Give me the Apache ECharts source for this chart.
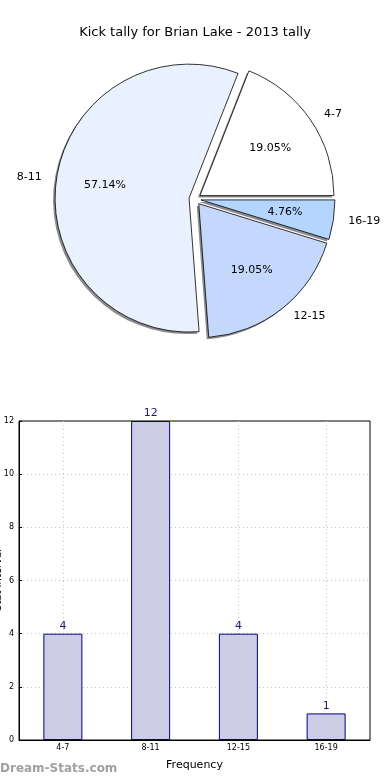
<!DOCTYPE html>
<html>
<head>
<meta charset="utf-8">
<script src="https://cdn.jsdelivr.net/npm/echarts@6/dist/echarts.min.js"></script>
<style>
html,body{margin:0;padding:0;background:#fff;}
#c{width:390px;height:780px;}
</style>
</head>
<body>
<div id="c"></div>
<script>
var titleText = "Kick tally for Brian Lake - 2013 tally";
var yAxisTitle = "Stat Interval";
var categories = ["4-7", "8-11", "12-15", "16-19"];
var counts = [4, 12, 4, 1];
var sliceColors = ["#ffffff", "#eaf1fe", "#c4d8fd", "#b4d5ff"];
var yTicks = [0, 2, 4, 6, 8, 10, 12];

var font = "DejaVu Sans";
var chart = echarts.init(document.getElementById('c'), null, {renderer: 'canvas'});

function makeData(withColor) {
  return categories.map(function (c, i) {
    var d = {name: c, value: counts[i], selected: true};
    if (withColor) d.itemStyle = {color: sliceColors[i]};
    return d;
  });
}

var pieCenter = [195, 199];
var pieR = 134;

function pieBase(extra) {
  var s = {
    type: 'pie',
    center: pieCenter,
    radius: [0, pieR],
    startAngle: 0,
    clockwise: false,
    selectedMode: 'multiple',
    selectedOffset: 6,
    emphasis: {disabled: true},
    silent: true,
    labelLine: {show: false},
    labelLayout: {hideOverlap: false}
  };
  for (var k in extra) s[k] = extra[k];
  return s;
}

var option = {
  backgroundColor: '#fff',
  animation: false,
  textStyle: {fontFamily: font},
  title: {
    text: titleText, left: 'center', top: 21,
    textStyle: {fontSize: 13, fontWeight: 'normal', color: '#000', fontFamily: font}
  },
  grid: {
    left: 19, right: 20, top: 421, bottom: 40,
    outerBoundsMode: 'none', containLabel: false,
    show: true, borderColor: '#000', borderWidth: 1, backgroundColor: 'transparent'
  },
  xAxis: {
    type: 'category', data: categories,
    name: 'Frequency', nameLocation: 'middle', nameGap: 20,
    nameTextStyle: {fontSize: 11, color: '#000', fontFamily: font},
    axisLine: {lineStyle: {color: '#000'}},
    axisTick: {show: true, alignWithLabel: true, inside: true, length: 3, lineStyle: {color: '#000'}},
    axisLabel: {fontSize: 8, color: '#000', margin: 4, fontFamily: font},
    splitLine: {show: true, alignWithLabel: true, lineStyle: {color: '#c4c4c4', type: [1, 3], width: 1}}
  },
  yAxis: {
    type: 'value', min: yTicks[0], max: yTicks[yTicks.length - 1], interval: 2,
    axisLine: {show: true, lineStyle: {color: '#000'}},
    axisTick: {show: true, inside: true, length: 3, lineStyle: {color: '#000'}},
    axisLabel: {fontSize: 8, color: '#000', margin: 5, fontFamily: font},
    splitLine: {show: true, showMinLine: false, showMaxLine: false, lineStyle: {color: '#c4c4c4', type: [1, 3], width: 1}}
  },
  series: [
    pieBase({
      center: [pieCenter[0] - 2, pieCenter[1] + 2],
      z: 1,
      itemStyle: {color: '#8c8c8c', borderWidth: 0},
      label: {show: false},
      data: makeData(false)
    }),
    pieBase({
      z: 2,
      itemStyle: {borderColor: '#000', borderWidth: 0.8},
      label: {
        show: true, position: 'outside', formatter: '{b}',
        fontSize: 11, color: '#000', fontFamily: font
      },
      labelLine: {show: false, length: 10, length2: 0},
      data: makeData(true)
    }),
    pieBase({
      radius: [0, 164],
      z: 3,
      itemStyle: {color: 'rgba(0,0,0,0)', borderWidth: 0},
      label: {
        show: true, position: 'inside', formatter: '{d}%',
        fontSize: 11, color: '#000', fontFamily: font
      },
      data: makeData(false)
    }),
    {
      type: 'bar',
      data: counts,
      barWidth: 39,
      itemStyle: {color: '#ccccE4', borderColor: '#00008b', borderWidth: 1},
      label: {
        show: true, position: 'top', distance: 2,
        fontSize: 11, color: '#1a1a8c', fontFamily: font
      },
      emphasis: {disabled: true}
    }
  ],
  graphic: [
    {
      type: 'text', x: 3, y: 580, rotation: Math.PI / 2,
      style: {text: yAxisTitle, fontSize: 10, fill: '#000', fontFamily: font, align: 'center', verticalAlign: 'bottom'}
    },
    {
      type: 'text', left: 0, top: 763,
      style: {text: 'Dream-Stats.com', fontSize: 12, fontWeight: 'bold', fill: '#a0a0a0', fontFamily: font}
    }
  ]
};
chart.setOption(option);
</script>
</body>
</html>
